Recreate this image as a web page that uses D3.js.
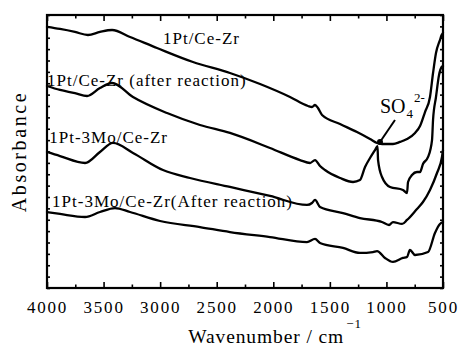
<!DOCTYPE html>
<html>
<head>
<meta charset="utf-8">
<script src="https://cdn.jsdelivr.net/npm/d3@7/dist/d3.min.js"></script>
<style>
  html, body { margin: 0; padding: 0; background: #fff; }
  svg { display: block; }
</style>
</head>
<body>
<svg id="chart" width="459" height="347"></svg>
<script>
// ---- data (wavenumber in cm^-1, absorbance in arbitrary offset units) ----
const xTicks = [4000, 3500, 3000, 2500, 2000, 1500, 1000, 500];
const xMinorTicks = [3750, 3250, 2750, 2250, 1750, 1250, 750];

const wnA = [4000,3885,3753,3638,3532,3425,3266,3028,2710,2383,2117,1852,1693,1658,1631,1605,1569,1410,1260,1145,1083,1039,942,880,818,747,703,659,615,588,562,527,512,500];
const absA = [22.95,22.77,22.51,22.24,22.51,22.68,22.07,21.10,19.87,18.90,17.93,16.79,16.00,15.91,16.09,15.82,15.21,14.42,13.71,13.10,12.75,12.66,12.66,12.84,13.10,13.63,14.24,15.47,16.79,18.90,20.66,21.80,22.24,22.42];

const wnB = [4000,3885,3753,3646,3532,3425,3240,2939,2648,2383,2029,1764,1675,1631,1587,1543,1410,1295,1234,1189,1145,1101,1079,1074,1039,968,854,818,809,774,730,703,677,632,597,588,562,535,512,500];
const absB = [17.76,17.41,17.14,16.88,17.58,18.02,16.79,15.38,14.33,13.63,12.31,11.25,10.99,11.25,10.73,10.37,9.67,9.32,9.49,10.64,11.43,12.13,12.48,11.25,9.76,8.88,8.62,8.35,9.32,9.93,10.20,10.20,10.90,11.52,13.01,14.77,16.79,18.73,19.43,19.52];

const wnC = [4000,3885,3664,3532,3417,3240,2975,2736,2383,2029,1702,1658,1631,1587,1384,1234,1039,977,942,862,818,730,677,615,553,509,500];
const absC = [11.96,11.60,10.99,11.96,12.75,11.87,10.37,9.67,8.88,8.09,7.30,7.47,7.74,7.12,6.59,6.15,5.80,5.54,5.80,5.63,5.98,6.95,7.56,8.62,10.11,11.52,12.13];

const wnD = [4000,3885,3664,3532,3399,3266,3001,2648,2383,2029,1702,1631,1587,1384,1234,1119,1083,1013,942,854,818,792,747,632,571,527,500];
const absD = [6.68,6.51,6.24,6.68,7.03,6.68,5.89,5.36,4.92,4.48,4.04,4.31,3.96,3.52,3.08,3.16,3.25,2.64,2.29,2.64,2.73,3.34,2.90,3.16,4.84,5.63,5.80];

const seriesNames = ["1Pt/Ce-Zr", "1Pt/Ce-Zr (after reaction)", "1Pt-3Mo/Ce-Zr", "1Pt-3Mo/Ce-Zr(After reaction)"];
// label anchor positions in data units [wavenumber, absorbance]
const labelWn = [2975, 4000, 3980, 3955];
const labelAbs = [21.45, 17.8, 12.75, 7.1];
const so4Wn = 1057;   // sulfate band marker
const so4Abs = 12.84;

const FONT = "'Liberation Serif', 'Times New Roman', Times, 'DejaVu Serif', serif";

// ---- layout ----
const W = 459, H = 347;
const m = {left: 47, top: 15, right: 16, bottom: 59};
const iw = W - m.left - m.right, ih = H - m.top - m.bottom;

const svg = d3.select("#chart");
const x = d3.scaleLinear().domain([4000, 500]).range([m.left, m.left + iw]);
const y = d3.scaleLinear().domain([0, 24]).range([m.top + ih, m.top]);

const line = d3.line().x(d => x(d[0])).y(d => y(d[1])).curve(d3.curveMonotoneX);

const series = [[wnA, absA], [wnB, absB], [wnC, absC], [wnD, absD]];
series.forEach(([wn, ab]) => {
  const pts = wn.map((w, i) => [w, ab[i]]);
  svg.append("path").datum(pts).attr("d", line)
    .attr("fill", "none").attr("stroke", "#000").attr("stroke-width", 2.3)
    .attr("stroke-linejoin", "round").attr("stroke-linecap", "round");
});

// axes
const yTicks = d3.range(0, 25, 1);
function styleAxis(g) {
  g.attr("font-family", null);
  g.select(".domain").remove();
  g.selectAll(".tick line").attr("stroke", "#000").attr("stroke-width", 1.6);
}
svg.append("g").attr("transform", `translate(0,${m.top + ih})`)
  .call(d3.axisBottom(x).tickValues(xTicks).tickSize(-6).tickPadding(13).tickFormat(d3.format("d")))
  .call(styleAxis)
  .call(g => g.selectAll("text").style("font-family", FONT).style("font-size", "17px")
      .style("letter-spacing", "1.8px").attr("fill", "#000"));
svg.append("g").attr("transform", `translate(0,${m.top + ih})`)
  .call(d3.axisBottom(x).tickValues(xMinorTicks).tickSize(-3.5).tickFormat(""))
  .call(styleAxis);
svg.append("g").attr("transform", `translate(0,${m.top})`)
  .call(d3.axisTop(x).tickValues(xTicks).tickSize(-6).tickFormat(""))
  .call(styleAxis);
svg.append("g").attr("transform", `translate(0,${m.top})`)
  .call(d3.axisTop(x).tickValues(xMinorTicks).tickSize(-3.5).tickFormat(""))
  .call(styleAxis);
svg.append("g").attr("transform", `translate(${m.left},0)`)
  .call(d3.axisLeft(y).tickValues(yTicks).tickSize(-3).tickFormat(""))
  .call(styleAxis);
svg.append("g").attr("transform", `translate(${m.left + iw},0)`)
  .call(d3.axisRight(y).tickValues(yTicks).tickSize(-3).tickFormat(""))
  .call(styleAxis);

// frame
svg.append("rect").attr("x", m.left).attr("y", m.top).attr("width", iw).attr("height", ih)
  .attr("fill", "none").attr("stroke", "#000").attr("stroke-width", 2.2);

// series labels
seriesNames.forEach((name, i) => {
  svg.append("text").attr("x", x(labelWn[i])).attr("y", y(labelAbs[i]))
    .style("font-family", FONT).style("font-size", "17px").style("letter-spacing", "1.0px")
    .attr("fill", "#000").text(name);
});

// SO4 2- annotation
svg.append("line")
  .attr("x1", x(so4Wn)).attr("y1", y(so4Abs))
  .attr("x2", x(so4Wn) + 15).attr("y2", y(so4Abs) - 22)
  .attr("stroke", "#000").attr("stroke-width", 2);
svg.append("circle").attr("cx", x(so4Wn)).attr("cy", y(so4Abs)).attr("r", 3).attr("fill", "#000");
const so4 = svg.append("text").attr("x", x(so4Wn)).attr("y", y(so4Abs) - 29)
  .style("font-family", FONT).style("font-size", "20px").attr("fill", "#000");
so4.append("tspan").text("SO");
so4.append("tspan").style("font-size", "13px").attr("dy", 5).attr("dx", 1).text("4");
so4.append("tspan").style("font-size", "13px").attr("dy", -16).attr("dx", 1).text("2-");

// axis titles
const xt = svg.append("text").attr("x", 275).attr("y", 343).attr("text-anchor", "middle")
  .style("font-family", FONT).style("font-size", "19.5px").style("letter-spacing", "0.9px").attr("fill", "#000");
xt.append("tspan").text("Wavenumber / cm");
xt.append("tspan").style("font-size", "13px").attr("dy", -15).attr("dx", 2).text("\u22121");

svg.append("text").attr("transform", `translate(26,${m.top + ih / 2}) rotate(-90)`)
  .attr("text-anchor", "middle").style("font-family", FONT).style("font-size", "20px")
  .style("letter-spacing", "2.6px").attr("fill", "#000")
  .text("Absorbance");
</script>
</body>
</html>
